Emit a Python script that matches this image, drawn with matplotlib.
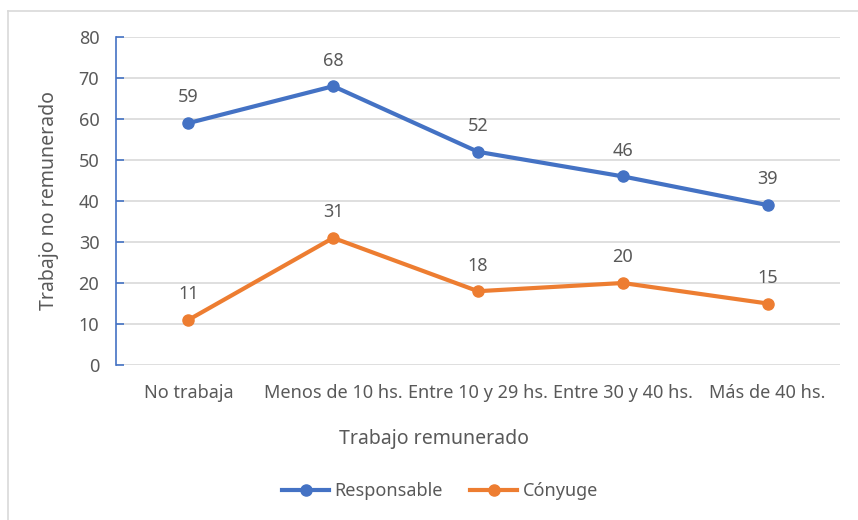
import matplotlib.pyplot as plt
from matplotlib.lines import Line2D

categories = ["No trabaja", "Menos de 10 hs.", "Entre 10 y 29 hs.", "Entre 30 y 40 hs.", "Más de 40 hs."]
responsable = [59, 68, 52, 46, 39]
conyuge = [11, 31, 18, 20, 15]
yticks = [0, 10, 20, 30, 40, 50, 60, 70, 80]

plt.rcParams['font.family'] = ['Liberation Sans Narrow', 'Noto Sans', 'DejaVu Sans']
txt = '#595959'
blue = '#4472C4'
orange = '#ED7D31'

fig = plt.figure(figsize=(8.58, 5.2), dpi=100)
ax = fig.add_axes([116/858, 1 - 365/520, (840 - 116)/858, (365 - 37)/520])

x = list(range(len(categories)))
ax.plot(x, responsable, color=blue, lw=3, marker='o', ms=8, label='Responsable', zorder=3)
ax.plot(x, conyuge, color=orange, lw=3, marker='o', ms=8, label='Cónyuge', zorder=3)

# data labels above each point
for series in [responsable, conyuge]:
    for xi, v in zip(x, series):
        ax.annotate(str(v), (xi, v), xytext=(0, 12), textcoords='offset points',
                    ha='center', va='bottom', fontsize=13, color=txt)

ax.set_xlim(-0.5, 4.5)
ax.set_ylim(0, 80)
ax.set_yticks(yticks)
ax.set_xticks(x)
ax.set_xticklabels(categories)
ax.grid(axis='y', color='#D9D9D9', lw=1.2)
ax.set_axisbelow(True)
for s in ['top', 'right', 'bottom']:
    ax.spines[s].set_visible(False)
ax.spines['left'].set_color(blue)
ax.spines['left'].set_linewidth(1.2)
ax.tick_params(axis='y', direction='in', length=6, color=blue, width=1.2,
               labelsize=13, labelcolor=txt, pad=12)
ax.tick_params(axis='x', length=0, labelsize=13, labelcolor=txt, pad=14)

ax.set_ylabel('Trabajo no remunerado', fontsize=14, color=txt, labelpad=14)
ax.set_xlabel('Trabajo remunerado', fontsize=14, color=txt)
ax.xaxis.set_label_coords(0.439, -0.196)

fig.legend(loc='center', bbox_to_anchor=(440/858, 1 - 491/520), ncol=2, frameon=False,
           fontsize=13, labelcolor=txt, handlelength=2.6, columnspacing=1.5, handletextpad=0.3)

# chart border
fig.add_artist(Line2D([8/858, 8/858], [0, 1 - 11/520], color='#D9D9D9', lw=1.2))
fig.add_artist(Line2D([8/858, 1], [1 - 11/520, 1 - 11/520], color='#D9D9D9', lw=1.2))

fig.savefig('out.png', dpi=100)
